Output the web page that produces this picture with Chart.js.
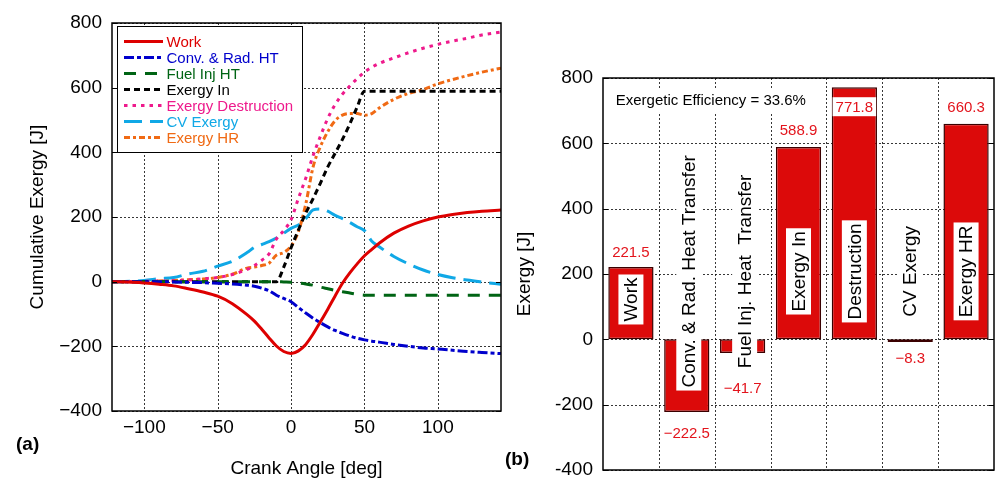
<!DOCTYPE html>
<html><head><meta charset="utf-8">
<script src="https://cdn.jsdelivr.net/npm/chart.js@4/dist/chart.umd.min.js"></script>
<style>
html,body{margin:0;padding:0;background:#fff;}
#wrap{position:relative;width:995px;height:478px;overflow:hidden;background:#fff;}
#wrap canvas{position:absolute;left:0;top:0;}
</style></head><body>
<div id="wrap"><canvas id="c1" width="995" height="478"></canvas><canvas id="c2" width="995" height="478"></canvas></div>
<script>
// ---------- DATA (left panel) ----------
const crankAngles = [-122, -110, -100, -90, -80, -70, -60, -50, -40, -30, -25, -20, -15, -10, -5, 0, 5, 10, 15, 20, 25, 30, 35, 40, 45, 50, 55, 60, 70, 80, 90, 100, 110, 120, 130, 143];
const work        = [0, -1, -4, -8, -13, -22, -32, -45, -68, -102, -122, -147, -174, -199, -216, -222, -214, -194, -162, -124, -85, -44, -5, 27, 55, 80, 100, 119, 150, 172, 188, 200, 208, 214, 218, 221.5];
const convRadHT   = [0, 0, 0, 0, -1, -2, -3, -5, -7, -11, -14, -20, -28, -42, -52, -62, -80, -97, -113, -127, -140, -151, -160, -168, -175, -180, -184, -187, -194, -200, -205, -208, -212, -216, -219, -222.5];
const fuelInjHT   = [0, 0, 0, 0, 0, 0, 0, 0, 0, 0, 0, 0, 0, 0, -1, -2, -4, -7, -11, -17, -22, -27, -31, -35, -39, -41.7, -41.7, -41.7, -41.7, -41.7, -41.7, -41.7, -41.7, -41.7, -41.7, -41.7];
const exergyIn    = [0, 0, 0, 0, 0, 0, 0, 0, 0, 0, 0, 0, 0, 0, 45, 105, 160, 212, 257, 305, 355, 397, 440, 488, 540, 588.9, 588.9, 588.9, 588.9, 588.9, 588.9, 588.9, 588.9, 588.9, 588.9, 588.9];
const destruction = [0, 0, 1, 2, 3, 5, 9, 13, 22, 38, 50, 66, 86, 132, 158, 192, 258, 320, 390, 450, 505, 548, 580, 605, 628, 648, 663, 675, 692, 708, 722, 734, 744, 753, 763, 771.8];
const cvExergy    = [0, 1, 4, 9, 13, 24, 32, 48, 63, 90, 106, 115, 124, 135, 150, 165, 175, 195, 222, 225, 218, 205, 195, 183, 170, 158, 125, 108, 78, 55, 36, 22, 12, 5, -1, -8.3];
const exergyHR    = [0, 0, 1, 2, 4, 6, 8, 13, 23, 42, 45, 50, 57, 82, 90, 110, 155, 240, 355, 418, 464, 498, 515, 520, 520, 515, 520, 537, 564, 582, 594, 612, 625, 637, 648, 660.3];
const seriesNames = ['Work', 'Conv. & Rad. HT', 'Fuel Inj HT', 'Exergy In', 'Exergy Destruction', 'CV Exergy', 'Exergy HR'];
const leftXTicks = [-100, -50, 0, 50, 100];
const leftYTicks = [-400, -200, 0, 200, 400, 600, 800];

// ---------- DATA (right panel) ----------
const barCategories = ['Work', 'Conv. & Rad. Heat Transfer', 'Fuel Inj. Heat  Transfer', 'Exergy In', 'Destruction', 'CV Exergy', 'Exergy HR'];
const barValues = [221.5, -222.5, -41.7, 588.9, 771.8, -8.3, 660.3];
const barValueLabels = ['221.5', '\u2212222.5', '\u221241.7', '588.9', '771.8', '\u22128.3', '660.3'];
const rightYTicks = [-400, -200, 0, 200, 400, 600, 800];
const efficiencyText = 'Exergetic Efficiency = 33.6%';

// ---------- STYLE ----------
const FF = "'Liberation Sans', Arial, Helvetica, sans-serif";
Chart.defaults.font.family = FF;
Chart.defaults.color = '#000';
const seriesStyles = [
  {color: '#dd0000', dash: []},
  {color: '#0000cc', dash: [10, 3, 4, 3]},
  {color: '#006414', dash: [12, 9]},
  {color: '#000000', dash: [6, 4]},
  {color: '#ee1a8c', dash: [3.5, 5]},
  {color: '#10a8e6', dash: [18, 8]},
  {color: '#f06a14', dash: [6, 3, 3, 3]}
];
const allSeries = [work, convRadHT, fuelInjHT, exergyIn, destruction, cvExergy, exergyHR];
const minusFmt = v => (v < 0 ? '\u2212' + Math.abs(v) : String(v));

function fixTicks(arr) {
  return function (scale) { scale.ticks = arr.map(v => ({value: v})); };
}
function zeroPad(scale) { scale.paddingLeft = 0; scale.paddingRight = 0; scale.paddingTop = 0; scale.paddingBottom = 0; }

const dotGridPlugin = {
  id: 'dotGrid',
  beforeDatasetsDraw(chart) {
    const {ctx, chartArea: a, scales} = chart;
    ctx.save();
    ctx.strokeStyle = 'rgba(20,20,20,0.85)';
    ctx.lineWidth = 1;
    ctx.setLineDash([2, 2]);
    const xs = [];
    if (scales.x.type === 'category') {
      const n = scales.x.ticks.length;
      for (let k = 1; k < n; k++) xs.push(a.left + k * (a.right - a.left) / n);
    } else {
      scales.x.ticks.forEach(t => xs.push(scales.x.getPixelForValue(t.value)));
    }
    ctx.beginPath();
    xs.forEach(x => { const px = Math.round(x) + 0.5; ctx.moveTo(px, a.top); ctx.lineTo(px, a.bottom); });
    scales.y.ticks.forEach(t => {
      const py = Math.round(scales.y.getPixelForValue(t.value)) + 0.5;
      ctx.moveTo(a.left, py); ctx.lineTo(a.right, py);
    });
    ctx.stroke();
    ctx.restore();
  }
};

const framePlugin = {
  id: 'frame',
  afterDraw(chart, args, opts) {
    const {ctx, chartArea: a} = chart;
    const ys = chart.scales.y;
    ctx.save();
    ctx.setLineDash([]);
    ctx.strokeStyle = '#000';
    ctx.lineWidth = 1;
    ys.ticks.forEach(t => {
      const y = Math.round(ys.getPixelForValue(t.value)) + 0.5;
      ctx.beginPath();
      ctx.moveTo(a.left, y); ctx.lineTo(a.left + 5, y);
      ctx.moveTo(a.right, y); ctx.lineTo(a.right - 5, y);
      ctx.stroke();
    });
    ctx.lineWidth = 1.5;
    ctx.strokeRect(a.left, a.top, a.right - a.left, a.bottom - a.top);
    ctx.fillStyle = '#000';
    ctx.font = 'bold 19px ' + FF;
    ctx.textBaseline = 'middle';
    ctx.textAlign = 'left';
    ctx.fillText(opts.panel, opts.px, opts.py);
    ctx.restore();
  }
};

const legendPlugin = {
  id: 'boxLegend',
  afterDatasetsDraw(chart) {
    const ctx = chart.ctx;
    ctx.save();
    ctx.fillStyle = '#fff';
    ctx.fillRect(117, 26, 185, 126);
    ctx.strokeStyle = '#000';
    ctx.lineWidth = 1;
    ctx.setLineDash([]);
    ctx.strokeRect(117.5, 26.5, 185, 126);
    ctx.font = '15px ' + FF;
    ctx.textBaseline = 'middle';
    ctx.textAlign = 'left';
    chart.data.datasets.forEach((ds, i) => {
      const y = 41.5 + i * 16;
      ctx.strokeStyle = ds.borderColor;
      ctx.lineWidth = 3;
      ctx.setLineDash(ds.borderDash || []);
      ctx.beginPath(); ctx.moveTo(124, y); ctx.lineTo(163, y); ctx.stroke();
      ctx.setLineDash([]);
      ctx.fillStyle = ds.borderColor;
      ctx.fillText(ds.label, 166.5, y + 1);
    });
    ctx.restore();
  }
};

// ---------- LEFT CHART ----------
new Chart(document.getElementById('c1'), {
  type: 'line',
  data: {
    datasets: allSeries.map((vals, i) => ({
      label: seriesNames[i],
      data: crankAngles.map((a, k) => ({x: a, y: vals[k]})),
      borderColor: seriesStyles[i].color,
      borderDash: seriesStyles[i].dash,
      borderWidth: 3,
      pointRadius: 0,
      fill: false,
      cubicInterpolationMode: 'monotone',
      borderCapStyle: 'butt'
    }))
  },
  options: {
    responsive: false,
    animation: false,
    events: [],
    layout: {padding: {left: 0, right: 494, top: 23, bottom: 0}},
    plugins: {legend: {display: false}, tooltip: {enabled: false},
      frame: {panel: '(a)', px: 16, py: 445}},
    scales: {
      x: {
        type: 'linear', min: -122, max: 143,
        afterBuildTicks: fixTicks(leftXTicks),
        afterFit(s) { s.height = 67; zeroPad(s); },
        ticks: {callback: minusFmt, font: {size: 19}, padding: 5, maxRotation: 0, includeBounds: false},
        grid: {display: false, drawTicks: false}, border: {display: false},
        title: {display: true, text: 'Crank Angle [deg]', font: {size: 19, lineHeight: 1}, padding: {top: 0, bottom: 0}}
      },
      y: {
        min: -400, max: 800,
        afterBuildTicks: fixTicks(leftYTicks),
        afterFit(s) { s.width = 112; zeroPad(s); },
        ticks: {callback: minusFmt, font: {size: 19}, padding: 10},
        grid: {display: false, drawTicks: false}, border: {display: false},
        title: {display: true, text: 'Cumulative Exergy [J]', font: {size: 19}, padding: {top: 26.6, bottom: 0}}
      }
    }
  },
  plugins: [dotGridPlugin, legendPlugin, framePlugin]
});

// ---------- RIGHT CHART ----------
const barLabelPlugin = {
  id: 'barLabels',
  afterDatasetsDraw(chart) {
    const ctx = chart.ctx;
    const meta = chart.getDatasetMeta(0);
    const ys = chart.scales.y;
    const valueOffsets = [-15, 21, 35, -17, 19.5, 16, -16.5];
    const nameCenters = [122, 208, 208, 208, 208, 208, 208];
    const nameShift = [0, 2, 2, 0, 0, 0, 0];
    ctx.save();
    ctx.font = '15px ' + FF;
    ctx.textBaseline = 'middle';
    ctx.textAlign = 'left';
    const ew = ctx.measureText(efficiencyText).width;
    ctx.fillStyle = '#fff';
    ctx.fillRect(612, 88, ew + 8, 24);
    ctx.fillStyle = '#000';
    ctx.fillText(efficiencyText, 615.7, 100.5);
    meta.data.forEach((bar, i) => {
      ctx.font = '15px ' + FF;
      ctx.textAlign = 'center';
      ctx.textBaseline = 'middle';
      const ly = bar.y + valueOffsets[i];
      if (i === 4) {
        const w = ctx.measureText(barValueLabels[i]).width;
        ctx.fillStyle = '#fff';
        ctx.fillRect(bar.x - w / 2 - 3, ly - 9.5, w + 6, 19);
      }
      ctx.fillStyle = '#e3141c';
      ctx.fillText(barValueLabels[i], bar.x, ly + 1);
      ctx.font = '19px ' + FF;
      const tw = ctx.measureText(barCategories[i]).width;
      const cy = ys.getPixelForValue(nameCenters[i]);
      const cx = bar.x + nameShift[i];
      ctx.save();
      ctx.translate(cx, cy);
      ctx.rotate(-Math.PI / 2);
      ctx.fillStyle = '#fff';
      ctx.fillRect(-tw / 2 - 3, -12.5, tw + 6, 25);
      ctx.fillStyle = '#000';
      ctx.fillText(barCategories[i], 0, 1);
      ctx.restore();
    });
    ctx.restore();
  }
};

new Chart(document.getElementById('c2'), {
  type: 'bar',
  data: {
    labels: barCategories,
    datasets: [{
      data: barValues,
      backgroundColor: '#dc0a0a',
      borderColor: '#3a0000',
      borderWidth: 1.5,
      borderSkipped: false,
      categoryPercentage: 1.0,
      barPercentage: 0.81
    }]
  },
  options: {
    responsive: false,
    animation: false,
    events: [],
    layout: {padding: {left: 500, right: 1, top: 78, bottom: 0}},
    plugins: {legend: {display: false}, tooltip: {enabled: false},
      frame: {panel: '(b)', px: 505, py: 460}},
    scales: {
      x: {
        type: 'category',
        offset: true,
        afterFit(s) { s.height = 8; zeroPad(s); },
        ticks: {display: false},
        grid: {display: false, offset: true, drawTicks: false}, border: {display: false}
      },
      y: {
        min: -400, max: 800,
        afterBuildTicks: fixTicks(rightYTicks),
        afterFit(s) { s.width = 103; zeroPad(s); },
        ticks: {font: {size: 19}, padding: 10},
        grid: {display: false, drawTicks: false}, border: {display: false},
        title: {display: true, text: 'Exergy [J]', font: {size: 19}, padding: {top: 13.6, bottom: 0}}
      }
    }
  },
  plugins: [dotGridPlugin, barLabelPlugin, framePlugin]
});
</script>
</body></html>
